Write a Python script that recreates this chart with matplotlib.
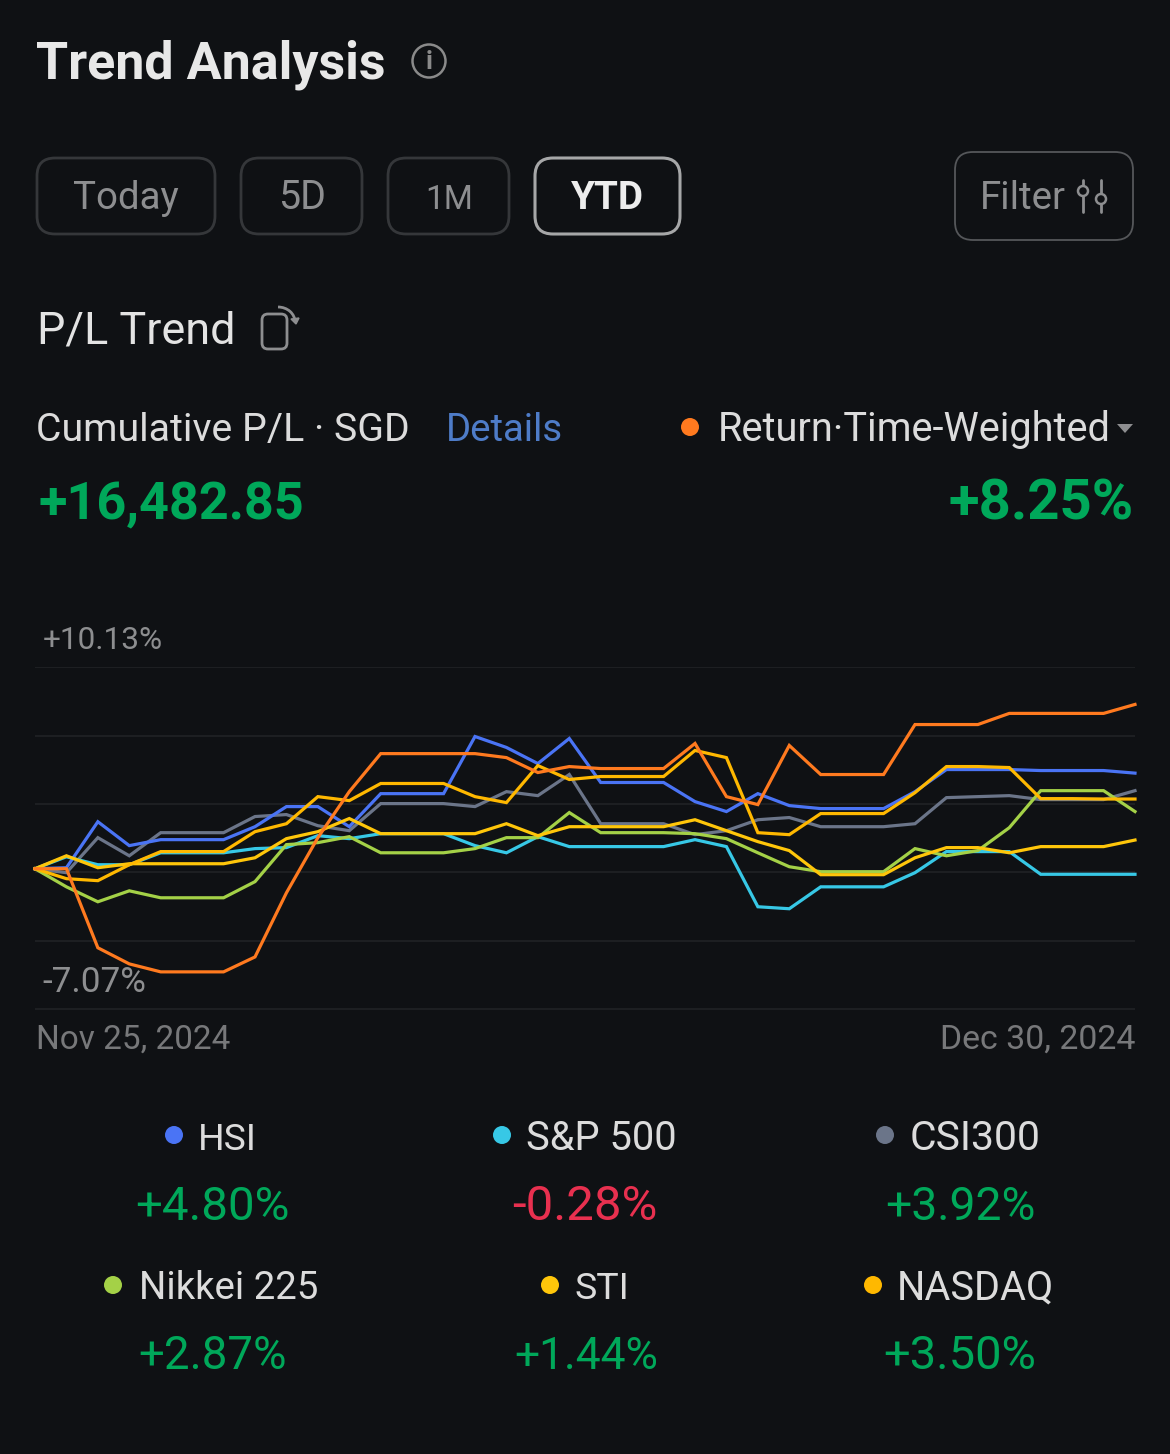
import matplotlib
matplotlib.use("Agg")
import matplotlib.pyplot as plt
from matplotlib.patches import FancyBboxPatch, Circle, Polygon, Arc

# ---------- data ----------
days = list(range(36))
hsi = [0,.05,2.36,1.16,1.46,1.46,1.46,2.11,3.12,3.12,2.11,3.77,3.77,3.77,6.64,6.09,5.28,6.54,4.33,4.33,4.33,3.37,2.87,3.77,3.17,3.02,3.02,3.02,3.87,4.98,4.98,4.98,4.93,4.93,4.93,4.80]
spx = [0,.60,.20,.20,.80,.80,.80,1.01,1.06,1.66,1.51,1.76,1.76,1.76,1.16,.80,1.61,1.11,1.11,1.11,1.11,1.46,1.11,-1.91,-2.01,-.91,-.91,-.91,-.20,.86,.86,.86,-.28,-.28,-.28,-.28]
csi = [0,-.20,1.56,.65,1.81,1.81,1.81,2.62,2.72,2.16,1.91,3.27,3.27,3.27,3.12,3.87,3.67,4.73,2.26,2.26,2.26,1.71,1.91,2.46,2.57,2.11,2.11,2.11,2.26,3.57,3.62,3.67,3.47,3.47,3.47,3.92]
nikkei = [0,-.91,-1.66,-1.11,-1.46,-1.46,-1.46,-.65,1.21,1.31,1.61,.80,.80,.80,1.01,1.56,1.56,2.82,1.81,1.81,1.81,1.76,1.51,.80,.10,-.15,-.15,-.15,1.01,.65,.91,2.06,3.92,3.92,3.92,2.87]
sti = [0,.65,.05,.25,.25,.25,.25,.55,1.51,1.86,2.52,1.76,1.76,1.76,1.76,2.26,1.66,2.11,2.11,2.11,2.11,2.46,1.91,1.36,.91,-.30,-.30,-.30,.55,1.06,1.06,.80,1.11,1.11,1.11,1.44]
nasdaq = [0,-.50,-.60,.20,.86,.86,.86,1.86,2.26,3.62,3.42,4.28,4.28,4.28,3.62,3.32,5.18,4.48,4.63,4.63,4.63,5.94,5.58,1.81,1.71,2.77,2.77,2.77,3.82,5.13,5.13,5.08,3.52,3.52,3.50,3.50]
portfolio = [0,0,-3.97,-4.78,-5.18,-5.18,-5.18,-4.43,-1.21,1.56,3.87,5.78,5.78,5.78,5.78,5.58,4.83,5.13,5.03,5.03,5.03,6.29,3.62,3.22,6.19,4.73,4.73,4.73,7.24,7.24,7.24,7.80,7.80,7.80,7.80,8.25]
y_ticks = [10.13, 6.69, 3.25, -0.19, -3.63, -7.07]
legend_names = ["HSI", "S&P 500", "CSI300", "Nikkei 225", "STI", "NASDAQ"]
legend_values = ["+4.80%", "-0.28%", "+3.92%", "+2.87%", "+1.44%", "+3.50%"]

BG = "#0F1114"
BLUE, CYAN, GRAY, LIME, YEL1, YEL2, ORANGE = "#4A74F5", "#37C8E6", "#6B7589", "#A4D147", "#FFC60A", "#FFB800", "#FF7A1F"
GREEN, RED = "#00A85A", "#E8304F"
plt.rcParams["font.family"] = ["Roboto", "DejaVu Sans"]

fig = plt.figure(figsize=(11.7, 14.54), dpi=100, facecolor=BG)

# overlay in pixel coordinates for the app chrome
ui = fig.add_axes([0, 0, 1, 1], zorder=0)
ui.set_xlim(0, 1170); ui.set_ylim(1454, 0); ui.axis("off")
fig.canvas.draw()
rend = fig.canvas.get_renderer()

def T(s, left, right, base, color, weight="normal"):
    """Text fitted between left and right pixel edges, on a baseline."""
    t = ui.text(left - 1, base, s, color=color, fontweight=weight, fontsize=20, ha="left", va="baseline")
    w = t.get_window_extent(rend).width
    t.set_fontsize(20 * (right - left + 2) / w)
    return t

def box(x0, x1, y0, y1, r, ec, lw):
    ui.add_patch(FancyBboxPatch((x0 + r, y0 + r), x1 - x0 - 2 * r, y1 - y0 - 2 * r,
                                boxstyle=f"round,pad={r},rounding_size={r}", fc="none", ec=ec, lw=lw))

# header
T("Trend Analysis", 37, 384, 79, "#E8E8E8", "bold")
ui.add_patch(Circle((429, 61), 16.5, fc="none", ec="#8A8A8A", lw=1.8))
ui.text(429, 62, "i", color="#8A8A8A", fontsize=19, ha="center", va="center", fontweight="bold")

# period buttons
for label, x0, x1, tl, tr in [("Today", 37, 215, 74, 178), ("5D", 241, 362, 279, 325), ("1M", 388, 509, 426, 472)]:
    box(x0, x1, 158, 234, 18, "#35373A", 2)
    T(label, tl, tr, 209, "#8D8E90")
box(535, 680, 158, 234, 18, "#A6A7A8", 2.2)
T("YTD", 572, 643, 209, "#EDEDED", "bold")

# filter
box(955, 1133, 152, 240, 18, "#55575A", 1.3)
T("Filter", 981, 1065, 209, "#8D8E90")
for x, cy, y0, y1 in [(1083, 191, 180, 212), (1101, 199, 180, 212)]:
    ui.plot([x, x], [y0, y1], color="#8D8E90", lw=2, solid_capstyle="round", zorder=2)
    ui.add_patch(Circle((x, cy), 5, fc=BG, ec="#8D8E90", lw=1.8, zorder=3))

# P/L Trend
T("P/L Trend", 38, 234, 344, "#E3E3E3")
ui.add_patch(FancyBboxPatch((268, 320), 13, 23, boxstyle="round,pad=6,rounding_size=6", fc="none", ec="#8D8E90", lw=2))
ui.add_patch(Arc((278, 322), 34, 30, theta1=270, theta2=360, ec="#8D8E90", lw=2))
ui.add_patch(Polygon([(291, 319), (299, 318), (296, 324)], closed=True, fc="#8D8E90", ec="#8D8E90", lw=1))

# summary row
T("Cumulative P/L · SGD", 37, 408, 441, "#DCDCDC")
T("Details", 447, 562, 441, "#4E7CC8")
ui.add_patch(Circle((690, 427), 9, fc=ORANGE, ec="none"))
T("Return·Time-Weighted", 719, 1109, 441, "#DCDCDC")
ui.add_patch(Polygon([(1117, 424), (1133, 424), (1125, 433)], fc="#8D8E90", ec="none"))
T("+16,482.85", 40, 304, 519, GREEN, "bold")
T("+8.25%", 949, 1132, 519, GREEN, "bold")

# chart
W, H = 1170, 1454
ax = fig.add_axes([35 / W, 1 - 1009.5 / H, 1100 / W, 342.5 / H], zorder=1)
ax.set_xlim(days[0], days[-1]); ax.set_ylim(y_ticks[-1], y_ticks[0])
ax.patch.set_alpha(0)
for s in ax.spines.values():
    s.set_visible(False)
ax.set_xticks([]); ax.set_yticks(y_ticks); ax.tick_params(length=0, labelleft=False)
ax.grid(axis="y", color="#1E2023", lw=1.4)
ax.set_axisbelow(True)
for vals, c in [(csi, GRAY), (hsi, BLUE), (spx, CYAN), (nikkei, LIME), (sti, YEL1), (nasdaq, YEL2), (portfolio, ORANGE)]:
    ax.plot(days, vals, color=c, lw=2.3, clip_on=False, solid_joinstyle="miter")

T("+10.13%", 44, 162, 649, "#8D8E90")
T("-7.07%", 43, 145, 992, "#8D8E90")
T("Nov 25, 2024", 37, 229, 1049, "#77787A")
T("Dec 30, 2024", 941, 1134, 1049, "#77787A")

# legend
legend_dots = [BLUE, CYAN, GRAY, LIME, YEL1, YEL2]
dot_x = [174, 502, 885, 113, 550, 873]
name_edges = [(199, 256), (527, 676), (911, 1040), (140, 317), (575, 628), (898, 1053)]
value_edges = [(136, 288), (513, 656), (886, 1034), (139, 285), (515, 657), (884, 1035)]
rows = [(1135, 1150, 1220)] * 3 + [(1285, 1299, 1369)] * 3
for name, val, c, dx, ne, ve, (dy, nb, vb) in zip(legend_names, legend_values, legend_dots, dot_x, name_edges, value_edges, rows):
    ui.add_patch(Circle((dx, dy), 9, fc=c, ec="none"))
    T(name, ne[0], ne[1], nb, "#DCDCDC")
    T(val, ve[0], ve[1], vb, RED if val.startswith("-") else GREEN)

fig.savefig("out.png", dpi=100, facecolor=BG)
